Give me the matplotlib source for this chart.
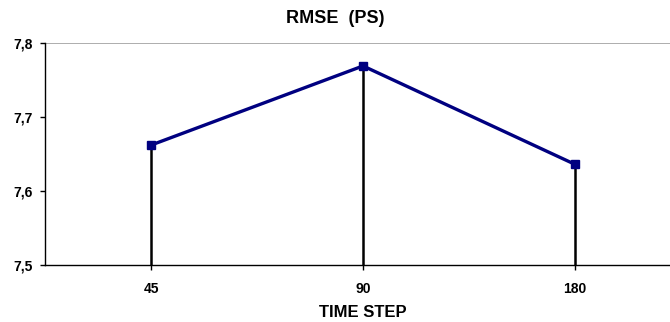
import matplotlib; matplotlib.use("Agg")
import matplotlib.pyplot as plt, numpy as np
from matplotlib.ticker import MultipleLocator, FuncFormatter

steps = ["45", "90", "180"]
rmse = [7.662, 7.769, 7.636]
ymin, ymax = 7.5, 7.8

plt.rcParams["font.family"] = ["Liberation Sans", "DejaVu Sans"]
x = np.arange(len(steps))
fig = plt.figure(figsize=(6.7, 3.22), dpi=100)
ax = fig.add_axes([45/670, 57/322, 636/670, 222/322])

ax.vlines(x, ymin, rmse, color="black", linewidth=1.8, zorder=2)
ax.plot(x, rmse, color="#000080", linewidth=2.4, marker="s", markersize=6, zorder=3)
ax.axhline(ymax, color="#a0a0a0", linewidth=1.2, zorder=1)

ax.set_xlim(-0.5, 2.5); ax.set_ylim(ymin, ymax)
ax.set_xticks(x); ax.set_xticklabels(steps, fontsize=10, fontweight="bold")
ax.yaxis.set_major_locator(MultipleLocator(0.1))
ax.yaxis.set_major_formatter(FuncFormatter(lambda v, p: f"{v:.1f}".replace(".", ",")))
for t in ax.get_yticklabels(): t.set_fontweight("bold"); t.set_fontsize(10)
ax.tick_params(axis="both", length=3.5, width=1, direction="out")
ax.tick_params(axis="x", pad=8.5)
ax.tick_params(axis="y", pad=5)
ax.set_xlabel("TIME STEP", fontsize=12, fontweight="bold", labelpad=7)
fig.text(0.5, 0.943, "RMSE  (PS)", ha="center", va="center", fontsize=13, fontweight="bold")
for sp in ("top", "right"): ax.spines[sp].set_visible(False)
ax.spines["left"].set_linewidth(1); ax.spines["bottom"].set_linewidth(1)
fig.savefig("out.png", dpi=100)
